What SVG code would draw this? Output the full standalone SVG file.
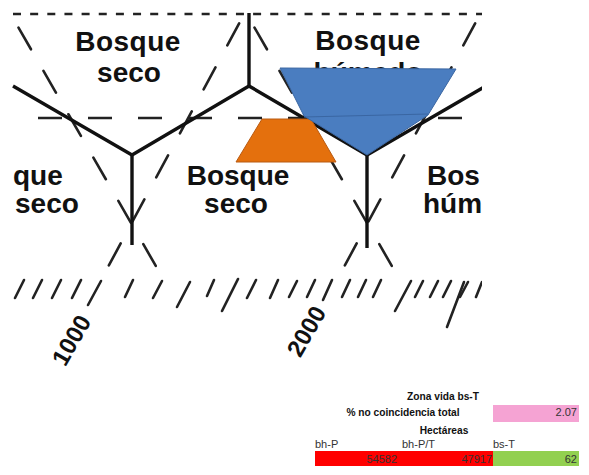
<svg xmlns="http://www.w3.org/2000/svg" xmlns:xlink="http://www.w3.org/1999/xlink" width="589" height="475" viewBox="0 0 589 475">
  <style>
    .solid { fill: none; stroke: #111; stroke-width: 3.4; stroke-linejoin: miter; }
    .dash-top { stroke: #222; stroke-width: 2.6; stroke-dasharray: 8 9.15; }
    .dash-mid { stroke: #222; stroke-width: 2.6; stroke-dasharray: 24 26; }
    .diag { stroke: #222; stroke-width: 2.6; stroke-dasharray: 25 25; stroke-linecap: round; }
    .tick { stroke: #222; stroke-width: 2.6; stroke-linecap: round; }
    .zone { font-family: "Liberation Sans", Arial, sans-serif; font-weight: bold; font-size: 28px; fill: #111; }
    .axis { font-family: "Liberation Sans", Arial, sans-serif; font-weight: bold; font-size: 24px; fill: #111; }
    .tb { font-family: "Liberation Sans", Arial, sans-serif; font-weight: bold; font-size: 10.2px; fill: #111; }
    .tr { font-family: "Liberation Sans", Arial, sans-serif; font-size: 11px; fill: #333; }
  </style>
  <defs>
    <clipPath id="frame">
      <rect x="12" y="8" width="470" height="385"/>
    </clipPath>
    <!-- pair of dashed hexagon edges meeting below a vertical boundary -->
    <g id="diagPair">
      <line class="diag" x1="17" y1="25" x2="157" y2="268" stroke-dashoffset="47"/>
      <line class="diag" x1="242" y1="18" x2="108" y2="267" stroke-dashoffset="44"/>
    </g>
  </defs>

  <rect width="589" height="475" fill="#fff"/>

  <g id="chart" clip-path="url(#frame)">
    <!-- dashed guide lines -->
    <g id="guides">
      <line class="dash-top" x1="13" y1="14" x2="482" y2="14"/>
      <line class="dash-mid" x1="38" y1="118" x2="470" y2="118"/>
      <use xlink:href="#diagPair"/>
      <use xlink:href="#diagPair" x="236"/>
    </g>

    <!-- solid life-zone boundaries -->
    <g id="boundaries">
      <path class="solid" d="M13,86 L132,155 L249,86 L367,155 L484,87"/>
      <path class="solid" d="M249,13 V86"/>
      <path class="solid" d="M132,155 V245"/>
      <path class="solid" d="M367,155 V248"/>
    </g>

    <!-- zone names -->
    <g id="zone-bs-top">
      <text class="zone" x="128" y="51" text-anchor="middle" letter-spacing="0.5">Bosque</text>
      <text class="zone" x="129" y="82" text-anchor="middle">seco</text>
    </g>
    <g id="zone-bh-top">
      <text class="zone" x="368" y="50" text-anchor="middle" letter-spacing="0.5">Bosque</text>
      <text class="zone" x="368" y="82" text-anchor="middle">húmedo</text>
    </g>
    <g id="zone-left">
      <text class="zone" x="13" y="185">que</text>
      <text class="zone" x="15" y="213">seco</text>
    </g>
    <g id="zone-bs-mid">
      <text class="zone" x="238" y="185" text-anchor="middle">Bosque</text>
      <text class="zone" x="236" y="213" text-anchor="middle">seco</text>
    </g>
    <g id="zone-right">
      <text class="zone" x="427" y="185">Bos</text>
      <text class="zone" x="423" y="213">húm</text>
    </g>

    <!-- precipitation scale -->
    <g id="scale">
      <line class="tick" x1="24" y1="280" x2="15" y2="298"/>
      <line class="tick" x1="42" y1="280" x2="33" y2="298"/>
      <line class="tick" x1="61" y1="280" x2="52" y2="298"/>
      <line class="tick" x1="81" y1="280" x2="72" y2="298"/>
      <line class="tick" x1="101" y1="281" x2="88" y2="305"/>
      <line class="tick" x1="133" y1="280" x2="125" y2="297"/>
      <line class="tick" x1="162" y1="281" x2="153" y2="298"/>
      <line class="tick" x1="190" y1="282" x2="177" y2="307"/>
      <line class="tick" x1="214" y1="280" x2="207" y2="296"/>
      <line class="tick" x1="238" y1="279" x2="222" y2="311"/>
      <line class="tick" x1="256" y1="280" x2="247" y2="298"/>
      <line class="tick" x1="278" y1="280" x2="270" y2="298"/>
      <line class="tick" x1="297" y1="281" x2="289" y2="297"/>
      <line class="tick" x1="315" y1="280" x2="307" y2="297"/>
      <line class="tick" x1="332" y1="280" x2="323" y2="300"/>
      <line class="tick" x1="350" y1="280" x2="342" y2="297"/>
      <line class="tick" x1="366" y1="280" x2="358" y2="297"/>
      <line class="tick" x1="381" y1="280" x2="373" y2="297"/>
      <line class="tick" x1="411" y1="281" x2="395" y2="311"/>
      <line class="tick" x1="423" y1="281" x2="415" y2="297"/>
      <line class="tick" x1="438" y1="281" x2="430" y2="297"/>
      <line class="tick" x1="451" y1="281" x2="443" y2="297"/>
      <line class="tick" x1="464" y1="282" x2="447" y2="327"/>
      <line class="tick" x1="468" y1="282" x2="460" y2="297"/>
      <line class="tick" x1="482" y1="282" x2="476" y2="297"/>
      <text class="axis" transform="translate(71,340) rotate(-60)" text-anchor="middle" dy="0.36em">1000</text>
      <text class="axis" transform="translate(306,331) rotate(-60)" text-anchor="middle" dy="0.36em">2000</text>
    </g>

    <!-- highlighted overlays -->
    <g id="overlay-orange">
      <polygon points="262,119 311,119 336,162 236,162" fill="#e4700d" stroke="#b85a12" stroke-width="1"/>
    </g>
    <g id="overlay-blue">
      <polygon points="280,68 456,69 428,115 367,155 304,116" fill="#4a7dc0" stroke="#3a66a2" stroke-width="1"/>
      <line x1="304" y1="117" x2="428" y2="114" stroke="#3a66a2" stroke-width="1.2"/>
    </g>
  </g>

  <!-- summary table -->
  <g id="table">
    <text class="tb" x="443" y="400" text-anchor="middle">Zona vida bs-T</text>
    <text class="tb" x="403" y="416" text-anchor="middle" font-size="11.5">% no coincidencia total</text>
    <rect x="493" y="405" width="86" height="17" fill="#f5a3d3"/>
    <text class="tr" x="577" y="416" text-anchor="end" fill="#5a3a4a">2.07</text>
    <text class="tb" x="444" y="434" text-anchor="middle" font-size="11">Hectáreas</text>
    <text class="tr" x="315" y="448">bh-P</text>
    <text class="tr" x="402" y="448">bh-P/T</text>
    <text class="tr" x="493" y="448">bs-T</text>
    <rect x="315" y="451" width="178" height="15" fill="#ff0000"/>
    <rect x="493" y="451" width="86" height="15" fill="#92d050"/>
    <text class="tr" x="397" y="463" text-anchor="end" fill="#b00000">54582</text>
    <text class="tr" x="492" y="463" text-anchor="end" fill="#b00000">47917</text>
    <text class="tr" x="577" y="463" text-anchor="end" fill="#222">62</text>
  </g>
</svg>
